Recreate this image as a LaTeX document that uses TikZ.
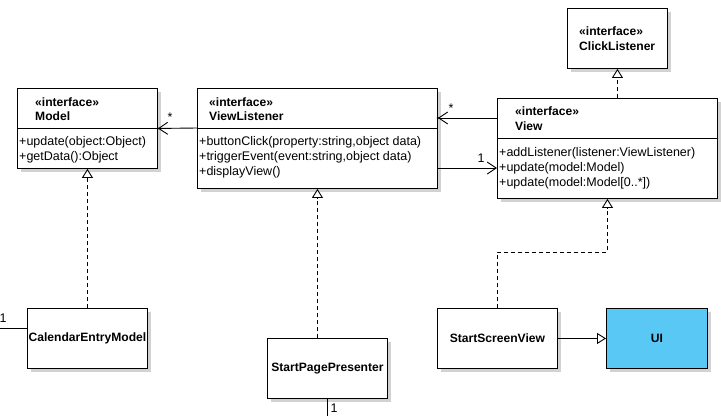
\documentclass[tikz,border=0pt]{standalone}
\usepackage{fontspec}
\setmainfont{Liberation Sans}
\usetikzlibrary{arrows.meta,calc,shadows}
\definecolor{shadowgray}{HTML}{D2D2D2}
\definecolor{uiblue}{HTML}{5AC8F5}
\begin{document}
\begin{tikzpicture}[x=1pt,y=-1pt,
  font=\fontsize{12.5}{14}\selectfont,
  umlbox/.style={draw=black, line width=0.9pt, fill=white, anchor=north west,
    inner sep=0pt, general shadow={fill=shadowgray, shadow xshift=4pt, shadow yshift=-4pt}},
  boldtext/.style={font=\fontsize{12.1}{14}\selectfont\bfseries},
  hdr/.style={anchor=base west, inner sep=0pt, boldtext},
  meth/.style={anchor=base west, inner sep=0pt},
  lbl/.style={inner sep=0pt},
  divline/.style={line width=0.9pt},
  assoc/.style={line width=0.9pt, -{Straight Barb[length=9pt,width=12pt,line width=0.9pt]}},
  realize/.style={line width=0.9pt, dash pattern=on 4pt off 3pt,
    -{Triangle[open,length=9pt,width=11pt,line width=0.9pt,fill=white]}},
  general/.style={line width=0.9pt,
    -{Triangle[open,length=9pt,width=11pt,line width=0.9pt,fill=white]}},
  plain/.style={line width=0.9pt}
]
\useasboundingbox (0,0) rectangle (721,416);

% ---- boxes ----
\node[umlbox, minimum width=140pt, minimum height=80pt] (model) at (17,88) {};
\node[umlbox, minimum width=240pt, minimum height=100pt] (vl) at (197,88) {};
\node[umlbox, minimum width=220pt, minimum height=100pt] (view) at (497,98) {};
\node[umlbox, minimum width=100pt, minimum height=60pt] (click) at (567,8) {};
\node[umlbox, minimum width=120pt, minimum height=60pt, boldtext] (cem) at (27,308) {CalendarEntryModel};
\node[umlbox, minimum width=120pt, minimum height=60pt, boldtext] (spp) at (267,338) {StartPagePresenter};
\node[umlbox, minimum width=120pt, minimum height=60pt, boldtext] (ssv) at (437,308) {StartScreenView};
\node[umlbox, fill=uiblue, minimum width=101pt, minimum height=60pt, boldtext] (ui) at (606,308) {UI};

% ---- dividers ----
\draw[divline] ($(model.north west)+(0,40)$) -- ($(model.north east)+(0,40)$);
\draw[divline] ($(vl.north west)+(0,40)$) -- ($(vl.north east)+(0,40)$);
\draw[divline] ($(view.north west)+(0,40)$) -- ($(view.north east)+(0,40)$);

% ---- texts: Model ----
\node[hdr] (mh1) at ($(model.north west)+(18,18)$) {«interface»};
\node[hdr] (mh2) at ($(model.north west)+(18,32.5)$) {Model};
\node[meth] (mm1) at ($(model.north west)+(2,57)$) {+update(object:Object)};
\node[meth] (mm2) at ($(model.north west)+(2,72)$) {+getData():Object};

% ---- texts: ViewListener ----
\node[hdr] (vh1) at ($(vl.north west)+(12,18)$) {«interface»};
\node[hdr] (vh2) at ($(vl.north west)+(12,32.5)$) {ViewListener};
\node[meth] (vm1) at ($(vl.north west)+(2,57.5)$) {+buttonClick(property:string,object data)};
\node[meth] (vm2) at ($(vl.north west)+(2,72.5)$) {+triggerEvent(event:string,object data)};
\node[meth] (vm3) at ($(vl.north west)+(2,87.5)$) {+displayView()};

% ---- texts: View ----
\node[hdr] (wh1) at ($(view.north west)+(18,17.5)$) {«interface»};
\node[hdr] (wh2) at ($(view.north west)+(18,32.5)$) {View};
\node[meth] (wm1) at ($(view.north west)+(2,58)$) {+addListener(listener:ViewListener)};
\node[meth] (wm2) at ($(view.north west)+(2,73)$) {+update(model:Model)};
\node[meth] (wm3) at ($(view.north west)+(2,88)$) {+update(model:Model[0..*])};

% ---- texts: ClickListener ----
\node[hdr] (ch1) at ($(click.north west)+(12,27)$) {«interface»};
\node[hdr] (ch2) at ($(click.north west)+(12,42)$) {ClickListener};

% ---- associations ----
\draw[assoc] ($(vl.north west)+(0,40)$) -- (model.east);
\fill (model.east) circle (1.3pt);
\node[lbl] (s1) at (170,117) {*};

\draw[assoc] ($(view.north west)+(0,20)$) -- ($(vl.north east)+(0,30)$);
\fill ($(vl.north east)+(0,30)$) circle (1.3pt);
\node[lbl] (s2) at (451,108) {*};

\draw[assoc] ($(vl.north east)+(0,80)$) -- ($(view.north west)+(0,70)$);
\node[lbl] (o1) at (481,158) {1};

% ---- realizations ----
\draw[realize] (view.north -| click.south) -- (click.south);
\draw[realize] (cem.north) -- (model.south);
\draw[realize] (spp.north -| vl.south) -- (vl.south);
\draw[realize] (ssv.north) -- ++(0,-56) -| (view.south);

% ---- generalization ----
\draw[general] (ssv.east) -- (ui.west);

% ---- free-ended lines ----
\coordinate (cemfree) at (0,328);
\draw[plain] (cemfree) -- (cem.west |- cemfree);
\node[lbl] (o2) at (3,318) {1};
\coordinate (sppfree) at (327,416);
\draw[plain] (spp.south -| sppfree) -- (sppfree);
\node[lbl] (o3) at (334,408) {1};
\end{tikzpicture}
\end{document}
